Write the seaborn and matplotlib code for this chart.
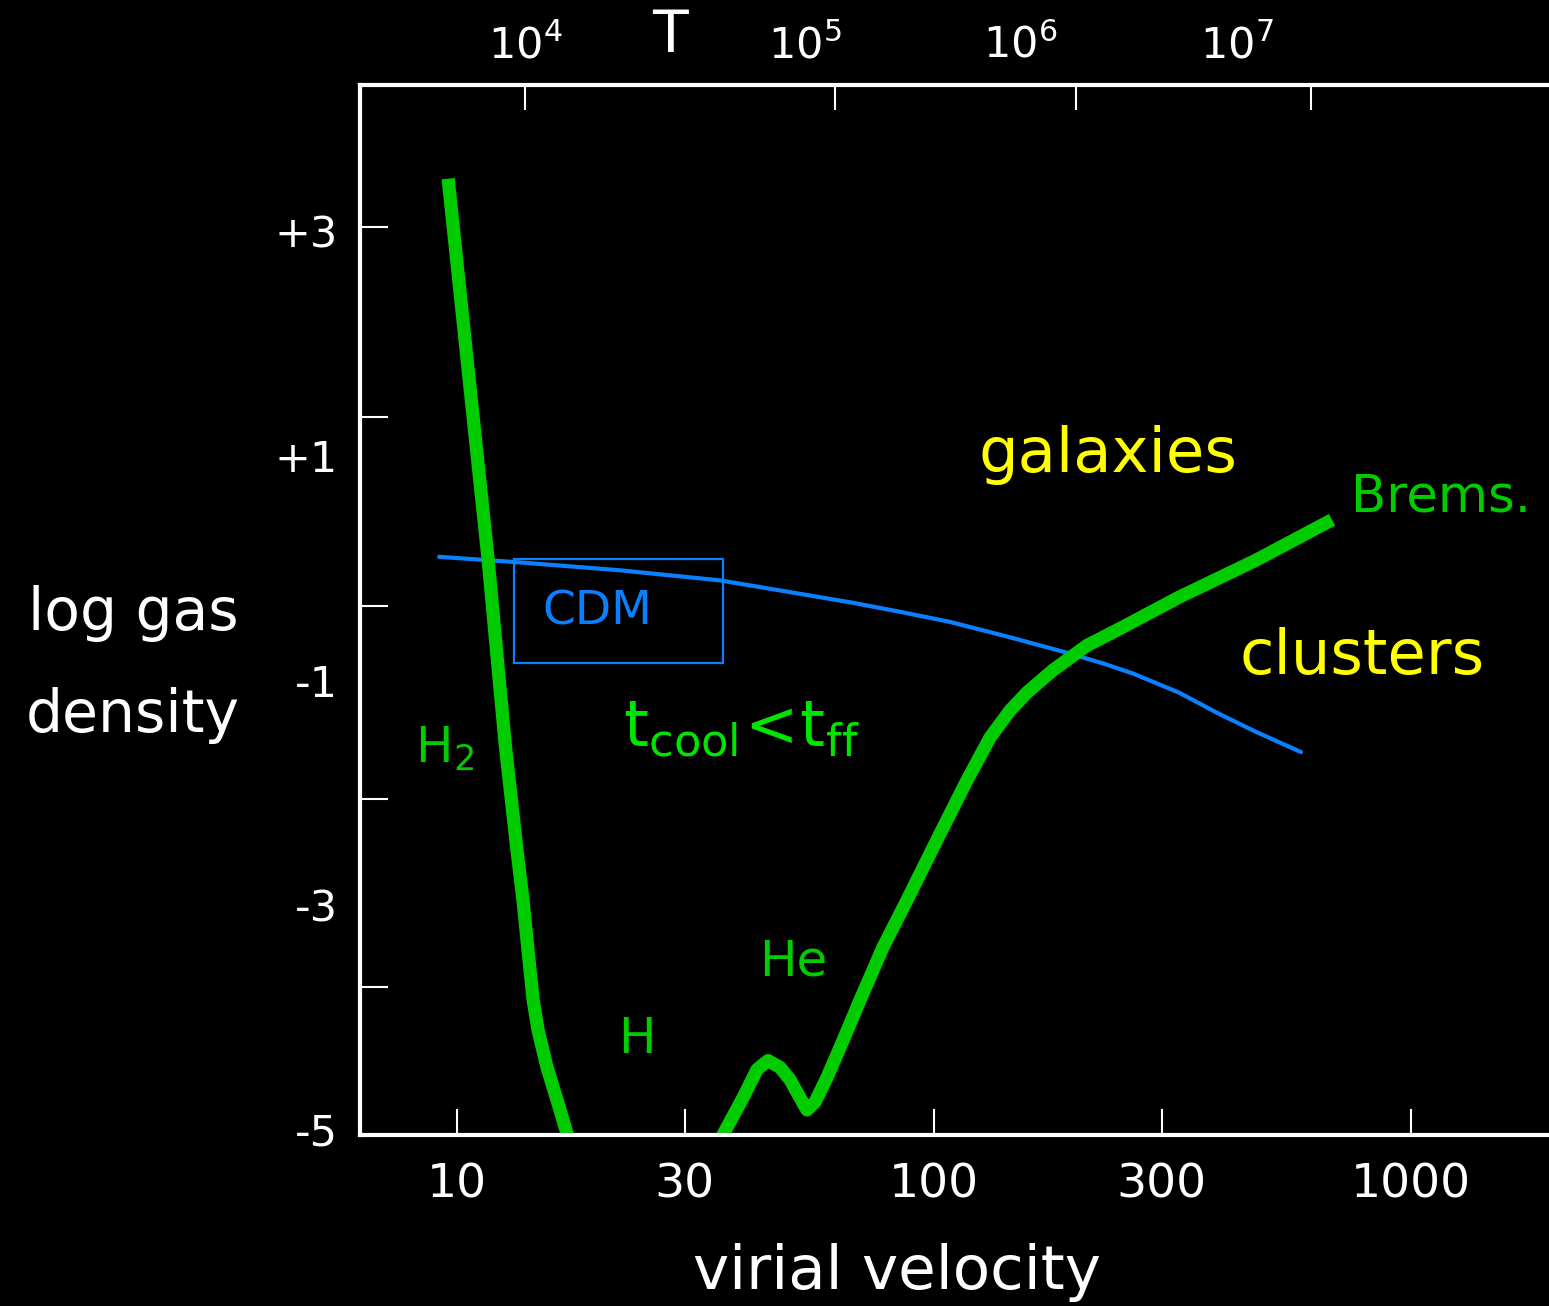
import matplotlib
matplotlib.use("Agg")
import matplotlib.pyplot as plt
import seaborn as sns
import pandas as pd
from matplotlib.patches import Rectangle
from matplotlib.ticker import FixedLocator, NullLocator, NullFormatter

# ---------------- data ----------------
# H2 cooling branch (left, steep)
h2_velocity = [9.58, 10.55, 11.61, 12.61, 13.36, 13.75, 14.09, 14.44, 14.79,
               15.44, 16.20, 17.17]
h2_logdens = [3.47, 1.77, 0.09, -1.56, -2.52, -2.96, -3.41, -3.85, -4.12,
              -4.45, -4.74, -5.10]

# H / He / Bremsstrahlung cooling branch
cool_velocity = [35.59, 39.78, 42.55, 44.87, 47.55, 49.90, 52.37, 54.17, 56.30,
                 59.67, 64.46, 69.98, 78.17, 87.78, 101.5, 117.3, 131.1, 144.3,
                 156.6, 177.6, 209.3, 247.8, 326.3, 473.2, 683.0]
cool_logdens = [-5.10, -4.72, -4.47, -4.39, -4.45, -4.56, -4.72, -4.83, -4.76,
                -4.54, -4.21, -3.85, -3.38, -2.96, -2.42, -1.89, -1.51, -1.27,
                -1.11, -0.91, -0.69, -0.53, -0.26, 0.07, 0.43]

# CDM halo density line
cdm_velocity = [9.17, 13.56, 21.96, 35.59, 49.18, 67.66, 84.87, 108.0, 142.2,
                188.2, 226.1, 261.3, 326.3, 392.0, 473.2, 588.0]
cdm_logdens = [0.10, 0.05, -0.02, -0.11, -0.21, -0.31, -0.39, -0.48, -0.61,
               -0.75, -0.85, -0.94, -1.11, -1.29, -1.46, -1.64]

# CDM label box extent
cdm_box_velocity = [13.17, 36.12]
cdm_box_logdens = [-0.85, 0.08]

# axes ticks / labels
v_ticks = [10, 30, 100, 300, 1000]
v_ticklabels = ["10", "30", "100", "300", "1000"]
dens_label_pos = [-5, -3, -1, 1, 3]
dens_labels = ["-5", "-3", "-1", "+1", "+3"]
dens_tick_marks = [-3.73, -2.06, -0.34, 1.35, 3.04]
T_label_velocity = [13.89, 53.7, 151.5, 431.5]
T_labels = [r"$10^4$", r"$10^5$", r"$10^6$", r"$10^7$"]
T_tick_velocity = [13.89, 62.0, 198.6, 616.6]

# ---------------- style ----------------
sns.set_theme(style="ticks")
plt.rcParams["font.family"] = ["DejaVu Sans"]
plt.rcParams["mathtext.default"] = "regular"
plt.rcParams["axes.facecolor"] = "black"
plt.rcParams["figure.facecolor"] = "black"

W, H = 1549, 1306
fig = plt.figure(figsize=(W / 100, H / 100), dpi=100)
fig.patch.set_facecolor("black")
ax = fig.add_axes([360 / W, 1 - 1135 / H, 1 - 360 / W, (1135 - 85) / H])
ax.set_facecolor("black")

GREEN = "#00cc00"
BLUE = "#0a80ff"

df_h2 = pd.DataFrame({"v": h2_velocity, "n": h2_logdens})
df_cool = pd.DataFrame({"v": cool_velocity, "n": cool_logdens})
df_cdm = pd.DataFrame({"v": cdm_velocity, "n": cdm_logdens})

ax.set_xscale("log")
sns.lineplot(data=df_cdm, x="v", y="n", ax=ax, color=BLUE, linewidth=3.0,
             sort=False, estimator=None, solid_joinstyle="round")
sns.lineplot(data=df_h2, x="v", y="n", ax=ax, color=GREEN, linewidth=9.5,
             sort=False, estimator=None, solid_capstyle="butt",
             solid_joinstyle="round")
sns.lineplot(data=df_cool, x="v", y="n", ax=ax, color=GREEN, linewidth=9.5,
             sort=False, estimator=None, solid_capstyle="butt",
             solid_joinstyle="round")

ax.add_patch(Rectangle((cdm_box_velocity[0], cdm_box_logdens[0]),
                       cdm_box_velocity[1] - cdm_box_velocity[0],
                       cdm_box_logdens[1] - cdm_box_logdens[0],
                       fill=False, edgecolor=BLUE, linewidth=1.6))

ax.set_xlim(6.26, 1947)
ax.set_ylim(-5.053, 4.305)
ax.set_xlabel("")
ax.set_ylabel("")

# bottom axis
ax.xaxis.set_major_locator(FixedLocator(v_ticks))
ax.set_xticklabels(v_ticklabels)
ax.xaxis.set_minor_locator(NullLocator())
ax.xaxis.set_minor_formatter(NullFormatter())
ax.tick_params(axis="x", which="major", direction="in", length=19, width=1.5,
               color="white", labelcolor="white", labelsize=34, pad=20)

# left axis
ax.yaxis.set_major_locator(FixedLocator(dens_label_pos))
ax.set_yticklabels(dens_labels)
ax.yaxis.set_minor_locator(FixedLocator(dens_tick_marks))
ax.yaxis.set_minor_formatter(NullFormatter())
ax.tick_params(axis="y", which="major", length=0, pad=16,
               labelcolor="white", labelsize=31)
ax.tick_params(axis="y", which="minor", direction="in", length=20, width=1.5,
               color="white")

for side in ["top", "right"]:
    ax.spines[side].set_visible(False)
for side in ["left", "bottom"]:
    ax.spines[side].set_color("white")
    ax.spines[side].set_linewidth(3)

# top temperature axis
ax2 = ax.twiny()
ax2.set_xscale("log")
ax2.set_xlim(ax.get_xlim())
ax2.xaxis.remove_overlapping_locs = False
ax2.xaxis.set_major_locator(FixedLocator(T_label_velocity))
ax2.set_xticklabels(T_labels)
ax2.xaxis.set_minor_locator(FixedLocator(T_tick_velocity))
ax2.xaxis.set_minor_formatter(NullFormatter())
ax2.tick_params(axis="x", which="major", length=0, pad=13,
                labelcolor="white", labelsize=31)
ax2.tick_params(axis="x", which="minor", direction="in", length=18, width=1.5,
                color="white")
ax2.patch.set_visible(False)
for side in ["left", "right", "bottom"]:
    ax2.spines[side].set_visible(False)
ax2.spines["top"].set_color("white")
ax2.spines["top"].set_linewidth(3)


def ftext(px, py, s, **kw):
    fig.text(px / W, 1 - py / H, s, ha="center", va="center", **kw)


ftext(670, 35, "T", color="white", fontsize=42)
ftext(897, 1272, "virial velocity", color="white", fontsize=44)
ftext(133, 614, "log gas", color="white", fontsize=42)
ftext(133, 715, "density", color="white", fontsize=42)

ftext(1108, 455, "galaxies", color="#ffff00", fontsize=45)
ftext(1362, 657, "clusters", color="#ffff00", fontsize=45)
ftext(1441, 498, "Brems.", color=GREEN, fontsize=37)
ftext(597, 612, "CDM", color=BLUE, fontsize=34)
ftext(741, 728, r"$t_{cool}\!<\!t_{ff}$", color="#00e600", fontsize=46)
ftext(444, 749, r"$H_2$", color=GREEN, fontsize=36)
ftext(793, 961, "He", color=GREEN, fontsize=36)
ftext(637, 1039, "H", color=GREEN, fontsize=36)

fig.savefig("out.png", dpi=100, facecolor="black")
